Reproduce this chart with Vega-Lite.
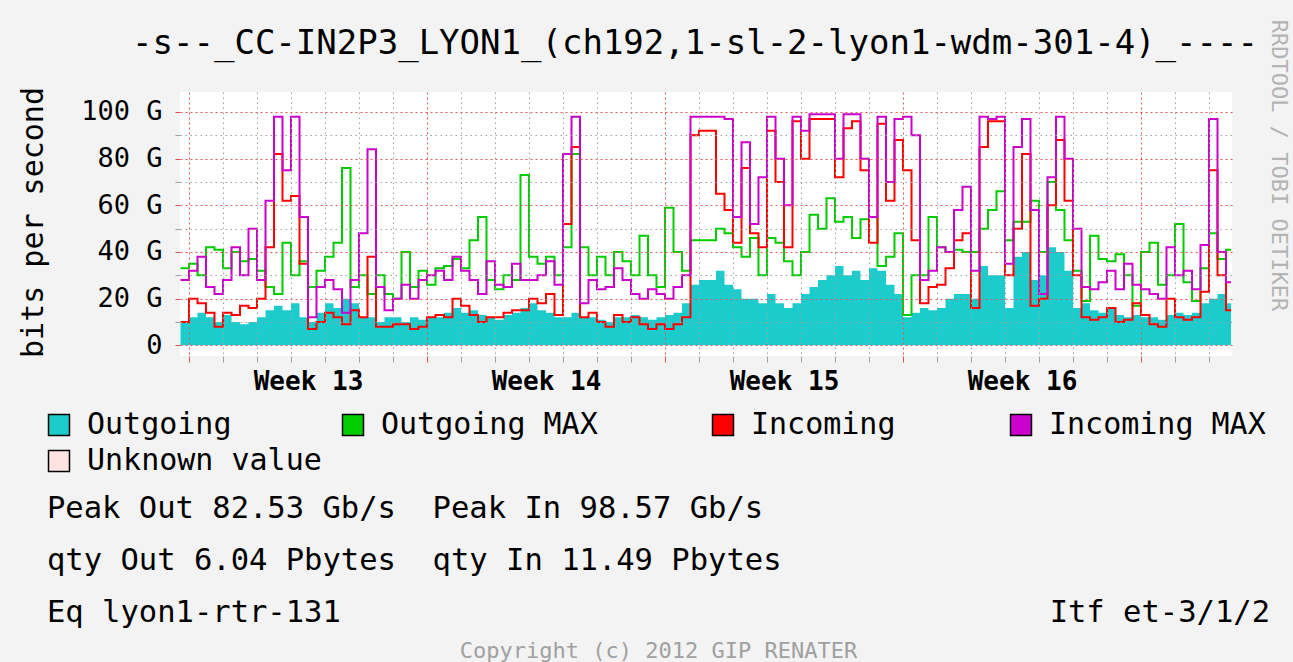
{
"$schema": "https://vega.github.io/schema/vega-lite/v6.json",
"width": 1052,
"height": 264,
"autosize": {"type": "none"},
"padding": {"left": 180, "top": 92, "right": 61, "bottom": 306},
"background": "#f3f3f3",
"config": {"view": {"fill": "white", "stroke": null}},
"title": {"text": "-s--_CC-IN2P3_LYON1_(ch192,1-sl-2-lyon1-wdm-301-4)_----", "font": "DejaVu Sans Mono", "fontSize": 34, "fontWeight": "normal", "color": "black", "anchor": "middle", "frame": "group", "dx": -11, "offset": -42},
"datasets": {
"main": [
{"d":-0.25,"Outgoing":10,"Outgoing MAX":33,"Incoming":10,"Incoming MAX":28},
{"d":0,"Outgoing":12,"Outgoing MAX":35,"Incoming":20,"Incoming MAX":32},
{"d":0.25,"Outgoing":14,"Outgoing MAX":30,"Incoming":18,"Incoming MAX":38},
{"d":0.5,"Outgoing":12,"Outgoing MAX":42,"Incoming":14,"Incoming MAX":25},
{"d":0.75,"Outgoing":10,"Outgoing MAX":41,"Incoming":8,"Incoming MAX":22},
{"d":1,"Outgoing":13,"Outgoing MAX":33,"Incoming":14,"Incoming MAX":28},
{"d":1.25,"Outgoing":10,"Outgoing MAX":40,"Incoming":13,"Incoming MAX":42},
{"d":1.5,"Outgoing":9,"Outgoing MAX":36,"Incoming":17,"Incoming MAX":30},
{"d":1.75,"Outgoing":10,"Outgoing MAX":37,"Incoming":16,"Incoming MAX":50},
{"d":2,"Outgoing":12,"Outgoing MAX":32,"Incoming":20,"Incoming MAX":28},
{"d":2.25,"Outgoing":15,"Outgoing MAX":25,"Incoming":42,"Incoming MAX":62},
{"d":2.5,"Outgoing":17,"Outgoing MAX":22,"Incoming":82,"Incoming MAX":98},
{"d":2.75,"Outgoing":15,"Outgoing MAX":44,"Incoming":62,"Incoming MAX":75},
{"d":3,"Outgoing":18,"Outgoing MAX":30,"Incoming":64,"Incoming MAX":98},
{"d":3.25,"Outgoing":12,"Outgoing MAX":36,"Incoming":35,"Incoming MAX":55},
{"d":3.5,"Outgoing":10,"Outgoing MAX":25,"Incoming":7,"Incoming MAX":12},
{"d":3.75,"Outgoing":14,"Outgoing MAX":32,"Incoming":10,"Incoming MAX":25},
{"d":4,"Outgoing":18,"Outgoing MAX":38,"Incoming":14,"Incoming MAX":28},
{"d":4.25,"Outgoing":16,"Outgoing MAX":44,"Incoming":12,"Incoming MAX":24},
{"d":4.5,"Outgoing":20,"Outgoing MAX":76,"Incoming":9,"Incoming MAX":14},
{"d":4.75,"Outgoing":18,"Outgoing MAX":25,"Incoming":15,"Incoming MAX":28},
{"d":5,"Outgoing":12,"Outgoing MAX":30,"Incoming":12,"Incoming MAX":48},
{"d":5.25,"Outgoing":12,"Outgoing MAX":22,"Incoming":38,"Incoming MAX":84},
{"d":5.5,"Outgoing":10,"Outgoing MAX":30,"Incoming":8,"Incoming MAX":25},
{"d":5.75,"Outgoing":12,"Outgoing MAX":22,"Incoming":8,"Incoming MAX":15},
{"d":6,"Outgoing":12,"Outgoing MAX":20,"Incoming":9,"Incoming MAX":20},
{"d":6.25,"Outgoing":10,"Outgoing MAX":40,"Incoming":9,"Incoming MAX":26},
{"d":6.5,"Outgoing":12,"Outgoing MAX":25,"Incoming":7,"Incoming MAX":20},
{"d":6.75,"Outgoing":11,"Outgoing MAX":32,"Incoming":8,"Incoming MAX":28},
{"d":7,"Outgoing":12,"Outgoing MAX":26,"Incoming":12,"Incoming MAX":30},
{"d":7.25,"Outgoing":12,"Outgoing MAX":33,"Incoming":13,"Incoming MAX":32},
{"d":7.5,"Outgoing":14,"Outgoing MAX":34,"Incoming":12,"Incoming MAX":28},
{"d":7.75,"Outgoing":16,"Outgoing MAX":37,"Incoming":20,"Incoming MAX":38},
{"d":8,"Outgoing":14,"Outgoing MAX":33,"Incoming":17,"Incoming MAX":32},
{"d":8.25,"Outgoing":15,"Outgoing MAX":45,"Incoming":13,"Incoming MAX":28},
{"d":8.5,"Outgoing":13,"Outgoing MAX":55,"Incoming":10,"Incoming MAX":22},
{"d":8.75,"Outgoing":12,"Outgoing MAX":28,"Incoming":12,"Incoming MAX":36},
{"d":9,"Outgoing":11,"Outgoing MAX":24,"Incoming":12,"Incoming MAX":26},
{"d":9.25,"Outgoing":13,"Outgoing MAX":30,"Incoming":14,"Incoming MAX":25},
{"d":9.5,"Outgoing":14,"Outgoing MAX":28,"Incoming":15,"Incoming MAX":35},
{"d":9.75,"Outgoing":16,"Outgoing MAX":73,"Incoming":15,"Incoming MAX":28},
{"d":10,"Outgoing":18,"Outgoing MAX":38,"Incoming":20,"Incoming MAX":28},
{"d":10.25,"Outgoing":15,"Outgoing MAX":35,"Incoming":18,"Incoming MAX":30},
{"d":10.5,"Outgoing":14,"Outgoing MAX":38,"Incoming":22,"Incoming MAX":36},
{"d":10.75,"Outgoing":12,"Outgoing MAX":30,"Incoming":13,"Incoming MAX":26},
{"d":11,"Outgoing":12,"Outgoing MAX":42,"Incoming":52,"Incoming MAX":82},
{"d":11.25,"Outgoing":14,"Outgoing MAX":82,"Incoming":85,"Incoming MAX":98},
{"d":11.5,"Outgoing":12,"Outgoing MAX":42,"Incoming":12,"Incoming MAX":18},
{"d":11.75,"Outgoing":12,"Outgoing MAX":30,"Incoming":14,"Incoming MAX":28},
{"d":12,"Outgoing":11,"Outgoing MAX":38,"Incoming":10,"Incoming MAX":24},
{"d":12.25,"Outgoing":10,"Outgoing MAX":30,"Incoming":8,"Incoming MAX":25},
{"d":12.5,"Outgoing":12,"Outgoing MAX":40,"Incoming":13,"Incoming MAX":33},
{"d":12.75,"Outgoing":12,"Outgoing MAX":36,"Incoming":10,"Incoming MAX":28},
{"d":13,"Outgoing":13,"Outgoing MAX":30,"Incoming":12,"Incoming MAX":22},
{"d":13.25,"Outgoing":12,"Outgoing MAX":47,"Incoming":9,"Incoming MAX":20},
{"d":13.5,"Outgoing":11,"Outgoing MAX":30,"Incoming":7,"Incoming MAX":24},
{"d":13.75,"Outgoing":12,"Outgoing MAX":25,"Incoming":9,"Incoming MAX":22},
{"d":14,"Outgoing":13,"Outgoing MAX":59,"Incoming":7,"Incoming MAX":20},
{"d":14.25,"Outgoing":14,"Outgoing MAX":40,"Incoming":9,"Incoming MAX":25},
{"d":14.5,"Outgoing":18,"Outgoing MAX":32,"Incoming":12,"Incoming MAX":30},
{"d":14.75,"Outgoing":26,"Outgoing MAX":45,"Incoming":90,"Incoming MAX":98},
{"d":15,"Outgoing":28,"Outgoing MAX":45,"Incoming":92,"Incoming MAX":98},
{"d":15.25,"Outgoing":28,"Outgoing MAX":45,"Incoming":92,"Incoming MAX":98},
{"d":15.5,"Outgoing":32,"Outgoing MAX":50,"Incoming":65,"Incoming MAX":98},
{"d":15.75,"Outgoing":26,"Outgoing MAX":48,"Incoming":58,"Incoming MAX":97},
{"d":16,"Outgoing":24,"Outgoing MAX":42,"Incoming":44,"Incoming MAX":55},
{"d":16.25,"Outgoing":20,"Outgoing MAX":38,"Incoming":76,"Incoming MAX":87},
{"d":16.5,"Outgoing":20,"Outgoing MAX":46,"Incoming":48,"Incoming MAX":52},
{"d":16.75,"Outgoing":18,"Outgoing MAX":30,"Incoming":42,"Incoming MAX":72},
{"d":17,"Outgoing":22,"Outgoing MAX":46,"Incoming":92,"Incoming MAX":98},
{"d":17.25,"Outgoing":18,"Outgoing MAX":44,"Incoming":70,"Incoming MAX":80},
{"d":17.5,"Outgoing":16,"Outgoing MAX":36,"Incoming":42,"Incoming MAX":60},
{"d":17.75,"Outgoing":18,"Outgoing MAX":30,"Incoming":96,"Incoming MAX":98},
{"d":18,"Outgoing":22,"Outgoing MAX":40,"Incoming":80,"Incoming MAX":92},
{"d":18.25,"Outgoing":25,"Outgoing MAX":56,"Incoming":97,"Incoming MAX":99},
{"d":18.5,"Outgoing":28,"Outgoing MAX":50,"Incoming":97,"Incoming MAX":99},
{"d":18.75,"Outgoing":30,"Outgoing MAX":63,"Incoming":97,"Incoming MAX":99},
{"d":19,"Outgoing":34,"Outgoing MAX":53,"Incoming":72,"Incoming MAX":80},
{"d":19.25,"Outgoing":30,"Outgoing MAX":55,"Incoming":93,"Incoming MAX":99},
{"d":19.5,"Outgoing":32,"Outgoing MAX":46,"Incoming":96,"Incoming MAX":99},
{"d":19.75,"Outgoing":28,"Outgoing MAX":54,"Incoming":75,"Incoming MAX":80},
{"d":20,"Outgoing":33,"Outgoing MAX":55,"Incoming":44,"Incoming MAX":55},
{"d":20.25,"Outgoing":32,"Outgoing MAX":34,"Incoming":95,"Incoming MAX":98},
{"d":20.5,"Outgoing":26,"Outgoing MAX":38,"Incoming":62,"Incoming MAX":70},
{"d":20.75,"Outgoing":22,"Outgoing MAX":48,"Incoming":88,"Incoming MAX":97},
{"d":21,"Outgoing":12,"Outgoing MAX":13,"Incoming":75,"Incoming MAX":98},
{"d":21.25,"Outgoing":14,"Outgoing MAX":30,"Incoming":45,"Incoming MAX":90},
{"d":21.5,"Outgoing":16,"Outgoing MAX":30,"Incoming":18,"Incoming MAX":28},
{"d":21.75,"Outgoing":15,"Outgoing MAX":55,"Incoming":25,"Incoming MAX":32},
{"d":22,"Outgoing":16,"Outgoing MAX":42,"Incoming":26,"Incoming MAX":42},
{"d":22.25,"Outgoing":20,"Outgoing MAX":40,"Incoming":33,"Incoming MAX":40},
{"d":22.5,"Outgoing":22,"Outgoing MAX":41,"Incoming":45,"Incoming MAX":58},
{"d":22.75,"Outgoing":22,"Outgoing MAX":40,"Incoming":48,"Incoming MAX":68},
{"d":23,"Outgoing":20,"Outgoing MAX":40,"Incoming":16,"Incoming MAX":32},
{"d":23.25,"Outgoing":34,"Outgoing MAX":50,"Incoming":85,"Incoming MAX":98},
{"d":23.5,"Outgoing":30,"Outgoing MAX":58,"Incoming":96,"Incoming MAX":97},
{"d":23.75,"Outgoing":30,"Outgoing MAX":66,"Incoming":96,"Incoming MAX":98},
{"d":24,"Outgoing":16,"Outgoing MAX":45,"Incoming":30,"Incoming MAX":35},
{"d":24.25,"Outgoing":38,"Outgoing MAX":53,"Incoming":50,"Incoming MAX":85},
{"d":24.5,"Outgoing":40,"Outgoing MAX":53,"Incoming":82,"Incoming MAX":97},
{"d":24.75,"Outgoing":28,"Outgoing MAX":62,"Incoming":17,"Incoming MAX":58},
{"d":25,"Outgoing":30,"Outgoing MAX":40,"Incoming":20,"Incoming MAX":22},
{"d":25.25,"Outgoing":42,"Outgoing MAX":70,"Incoming":60,"Incoming MAX":72},
{"d":25.5,"Outgoing":40,"Outgoing MAX":58,"Incoming":88,"Incoming MAX":98},
{"d":25.75,"Outgoing":32,"Outgoing MAX":45,"Incoming":62,"Incoming MAX":80},
{"d":26,"Outgoing":16,"Outgoing MAX":32,"Incoming":30,"Incoming MAX":50},
{"d":26.25,"Outgoing":18,"Outgoing MAX":19,"Incoming":12,"Incoming MAX":25},
{"d":26.5,"Outgoing":15,"Outgoing MAX":47,"Incoming":11,"Incoming MAX":24},
{"d":26.75,"Outgoing":14,"Outgoing MAX":37,"Incoming":12,"Incoming MAX":27},
{"d":27,"Outgoing":16,"Outgoing MAX":36,"Incoming":16,"Incoming MAX":32},
{"d":27.25,"Outgoing":13,"Outgoing MAX":39,"Incoming":10,"Incoming MAX":24},
{"d":27.5,"Outgoing":12,"Outgoing MAX":30,"Incoming":11,"Incoming MAX":35},
{"d":27.75,"Outgoing":13,"Outgoing MAX":17,"Incoming":18,"Incoming MAX":26},
{"d":28,"Outgoing":12,"Outgoing MAX":40,"Incoming":13,"Incoming MAX":24},
{"d":28.25,"Outgoing":12,"Outgoing MAX":44,"Incoming":9,"Incoming MAX":22},
{"d":28.5,"Outgoing":11,"Outgoing MAX":26,"Incoming":8,"Incoming MAX":20},
{"d":28.75,"Outgoing":13,"Outgoing MAX":30,"Incoming":20,"Incoming MAX":42},
{"d":29,"Outgoing":14,"Outgoing MAX":52,"Incoming":12,"Incoming MAX":30},
{"d":29.25,"Outgoing":13,"Outgoing MAX":27,"Incoming":11,"Incoming MAX":32},
{"d":29.5,"Outgoing":14,"Outgoing MAX":19,"Incoming":12,"Incoming MAX":24},
{"d":29.75,"Outgoing":18,"Outgoing MAX":33,"Incoming":23,"Incoming MAX":43},
{"d":30,"Outgoing":20,"Outgoing MAX":48,"Incoming":75,"Incoming MAX":97},
{"d":30.25,"Outgoing":22,"Outgoing MAX":37,"Incoming":30,"Incoming MAX":40},
{"d":30.5,"Outgoing":18,"Outgoing MAX":41,"Incoming":15,"Incoming MAX":27},
{"d":30.65,"Outgoing":18,"Outgoing MAX":41,"Incoming":15,"Incoming MAX":27}
],
"txt": [
{"row":"1","side":"left","text":"Peak Out 82.53 Gb/s\u00a0 Peak In 98.57 Gb/s"},
{"row":"2","side":"left","text":"qty Out 6.04 Pbytes\u00a0 qty In 11.49 Pbytes"},
{"row":"3","side":"left","text":"Eq lyon1-rtr-131"},
{"row":"3","side":"right","text":"Itf et-3/1/2"},
{"row":"4","side":"center","text":"Copyright (c) 2012 GIP RENATER"}
]
},
"resolve": {"scale": {"x": "independent", "y": "independent", "fill": "shared", "stroke": "shared"}, "axis": {"x": "independent", "y": "independent"}},
"layer": [
{
"data": {"name": "main"},
"transform": [{"fold": ["Outgoing"], "as": ["series", "v"]}],
"mark": {"type": "area", "interpolate": "step-after"},
"encoding": {
"x": {"field": "d", "type": "quantitative", "scale": {"domain": [-0.2647, 30.6765], "nice": false, "zero": false},
"axis": {"values": [0,1,2,3,4,5,6,7,8,9,10,11,12,13,14,15,16,17,18,19,20,21,22,23,24,25,26,27,28,29,30,3.5,10.5,17.5,24.5],
"labelExpr": "datum.value % 7 == 3.5 ? 'Week ' + (13 + floor(datum.value / 7)) : ''",
"labelFont": "DejaVu Sans Mono", "labelFontSize": 26, "labelFontWeight": "bold", "labelColor": "black", "labelOverlap": false, "labelFlush": false, "labelBound": false, "labelPadding": 6,
"tickSize": 6, "tickWidth": 1,
"tickColor": {"condition": {"test": "datum.value % 7 == 0", "value": "#e05050"}, "value": "#a0a0a0"},
"tickOpacity": {"condition": {"test": "datum.value % 1 != 0", "value": 0}, "value": 1},
"grid": true, "gridWidth": 1,
"gridColor": {"condition": {"test": "datum.value % 7 == 0", "value": "#e85555"}, "value": "#a0a0a0"},
"gridDash": {"condition": {"test": "datum.value % 7 == 0", "value": [2, 3]}, "value": [1.5, 3.5]},
"gridOpacity": {"condition": {"test": "datum.value % 1 != 0", "value": 0}, "value": 1},
"domain": false, "title": null, "zindex": 1}},
"y": {"field": "v", "type": "quantitative", "scale": {"domain": [-4.59, 108.57], "nice": false, "zero": false},
"axis": {"values": [0,10,20,30,40,50,60,70,80,90,100],
"labelExpr": "datum.value % 20 == 0 ? (datum.value == 0 ? '0' : datum.value + ' G') : ''",
"labelFont": "DejaVu Sans Mono", "labelFontSize": 27, "labelColor": "black", "labelOverlap": false, "labelPadding": 13, "labelFlush": false, "labelBound": false,
"tickSize": 5, "tickWidth": 1,
"tickColor": {"condition": {"test": "datum.value % 20 == 0", "value": "#e05050"}, "value": "#a0a0a0"},
"grid": true, "gridWidth": 1,
"gridColor": {"condition": {"test": "datum.value % 20 == 0", "value": "#e85555"}, "value": "#a0a0a0"},
"gridDash": {"condition": {"test": "datum.value % 20 == 0", "value": [2, 3]}, "value": [1.5, 3.5]},
"domain": false,
"title": "bits per second", "titleFont": "DejaVu Sans Mono", "titleFontSize": 30, "titleFontWeight": "normal", "titleColor": "black",
"titleAngle": 270, "titleX": -138, "titleY": 130, "titleAlign": "center", "titleBaseline": "alphabetic", "zindex": 1}},
"y2": {"datum": 0},
"fill": {"field": "series", "type": "nominal",
"scale": {"domain": ["Outgoing", "Outgoing MAX", "Incoming", "Incoming MAX", "Unknown value"], "range": ["#1ccccc", "#00cc00", "#ff0000", "#cc00cc", "#ffe2e2"]},
"legend": {"orient": "none", "legendX": -136, "legendY": 318, "direction": "horizontal", "columns": 4, "columnPadding": 16, "rowPadding": 6,
"labelExpr": "datum.label == 'Outgoing MAX' ? 'Outgoing MAX\u00a0\u00a0\u00a0\u00a0\u2800' : (datum.label == 'Incoming' ? 'Incoming\u00a0\u00a0\u00a0\u00a0\u2800' : datum.label)",
"symbolType": "square", "symbolSize": 440, "symbolStrokeColor": "black", "symbolStrokeWidth": 1.5, "symbolOpacity": 1,
"labelFont": "DejaVu Sans Mono", "labelFontSize": 30, "labelColor": "black", "labelOffset": 13, "labelLimit": 0, "title": null, "padding": 0}}
}
},
{
"data": {"name": "main"},
"transform": [{"fold": ["Outgoing MAX"], "as": ["series", "v"]}],
"mark": {"type": "line", "interpolate": "step-after", "strokeWidth": 2},
"encoding": {
"x": {"field": "d", "type": "quantitative", "scale": {"domain": [-0.2647, 30.6765], "nice": false, "zero": false}, "axis": null},
"y": {"field": "v", "type": "quantitative", "scale": {"domain": [-4.59, 108.57], "nice": false, "zero": false}, "axis": null},
"stroke": {"field": "series", "type": "nominal", "scale": {"domain": ["Outgoing MAX", "Incoming", "Incoming MAX"], "range": ["#00cc00", "#ff0000", "#cc00cc"]}, "legend": null}
}
},
{
"data": {"name": "main"},
"transform": [{"fold": ["Incoming"], "as": ["series", "v"]}],
"mark": {"type": "line", "interpolate": "step-after", "strokeWidth": 2},
"encoding": {
"x": {"field": "d", "type": "quantitative", "scale": {"domain": [-0.2647, 30.6765], "nice": false, "zero": false}, "axis": null},
"y": {"field": "v", "type": "quantitative", "scale": {"domain": [-4.59, 108.57], "nice": false, "zero": false}, "axis": null},
"stroke": {"field": "series", "type": "nominal", "legend": null}
}
},
{
"data": {"name": "main"},
"transform": [{"fold": ["Incoming MAX"], "as": ["series", "v"]}],
"mark": {"type": "line", "interpolate": "step-after", "strokeWidth": 2},
"encoding": {
"x": {"field": "d", "type": "quantitative", "scale": {"domain": [-0.2647, 30.6765], "nice": false, "zero": false}, "axis": null},
"y": {"field": "v", "type": "quantitative", "scale": {"domain": [-4.59, 108.57], "nice": false, "zero": false},
"axis": {"orient": "right", "labels": false, "ticks": false, "domain": false, "grid": false,
"title": "RRDTOOL / TOBI OETIKER", "titleAngle": 90, "titleFont": "DejaVu Sans Mono", "titleFontSize": 22, "titleFontWeight": "normal", "titleColor": "#b4b4b4",
"titleX": 46, "titleY": 73, "titleAlign": "center", "titleBaseline": "middle"}},
"stroke": {"field": "series", "type": "nominal", "legend": null}
}
},
{
"mark": {"type": "rule", "color": "#606060", "strokeWidth": 2},
"encoding": {
"x": {"datum": -0.294, "type": "quantitative", "scale": {"domain": [-0.2647, 30.6765], "nice": false, "zero": false}, "axis": null},
"y": {"datum": -6.6, "type": "quantitative", "scale": {"domain": [-4.59, 108.57], "nice": false, "zero": false}, "axis": null},
"y2": {"datum": 111}
}
},
{
"mark": {"type": "rule", "color": "#606060", "strokeWidth": 2},
"encoding": {
"x": {"datum": -0.45, "type": "quantitative", "scale": {"domain": [-0.2647, 30.6765], "nice": false, "zero": false}, "axis": null},
"x2": {"datum": 30.9},
"y": {"datum": -4.59, "type": "quantitative", "scale": {"domain": [-4.59, 108.57], "nice": false, "zero": false}, "axis": null}
}
},
{
"mark": {"type": "point", "shape": "triangle-up", "filled": true, "color": "#8b1c1c", "size": 170, "opacity": 1},
"encoding": {
"x": {"datum": -0.294, "type": "quantitative", "scale": {"domain": [-0.2647, 30.6765], "nice": false, "zero": false}, "axis": null},
"y": {"datum": 113.1, "type": "quantitative", "scale": {"domain": [-4.59, 108.57], "nice": false, "zero": false}, "axis": null}
}
},
{
"mark": {"type": "point", "shape": "triangle-right", "filled": true, "color": "#8b1c1c", "size": 170, "opacity": 1},
"encoding": {
"x": {"datum": 31.06, "type": "quantitative", "scale": {"domain": [-0.2647, 30.6765], "nice": false, "zero": false}, "axis": null},
"y": {"datum": -4.59, "type": "quantitative", "scale": {"domain": [-4.59, 108.57], "nice": false, "zero": false}, "axis": null}
}
},
{
"data": {"name": "txt"},
"transform": [{"filter": "datum.side == 'left'"}],
"mark": {"type": "text", "align": "left", "baseline": "middle", "font": "DejaVu Sans Mono", "fontSize": 30.5, "color": "black"},
"encoding": {
"x": {"field": "side", "type": "nominal", "scale": {"type": "point", "domain": ["left", "center", "right"], "range": [-133, 1090], "padding": 0}, "axis": null},
"y": {"field": "row", "type": "nominal", "scale": {"type": "point", "domain": ["1", "2", "3", "4"], "range": [417, 573], "padding": 0}, "axis": null},
"text": {"field": "text"}
}
},
{
"data": {"name": "txt"},
"transform": [{"filter": "datum.side == 'right'"}],
"mark": {"type": "text", "align": "right", "baseline": "middle", "font": "DejaVu Sans Mono", "fontSize": 30.5, "color": "black"},
"encoding": {
"x": {"field": "side", "type": "nominal", "scale": {"type": "point", "domain": ["left", "center", "right"], "range": [-133, 1090], "padding": 0}, "axis": null},
"y": {"field": "row", "type": "nominal", "scale": {"type": "point", "domain": ["1", "2", "3", "4"], "range": [417, 573], "padding": 0}, "axis": null},
"text": {"field": "text"}
}
},
{
"data": {"name": "txt"},
"transform": [{"filter": "datum.side == 'center'"}],
"mark": {"type": "text", "align": "center", "baseline": "middle", "font": "DejaVu Sans Mono", "fontSize": 22, "color": "#a0a0a0", "dy": -14},
"encoding": {
"x": {"field": "side", "type": "nominal", "scale": {"type": "point", "domain": ["left", "center", "right"], "range": [-133, 1090], "padding": 0}, "axis": null},
"y": {"field": "row", "type": "nominal", "scale": {"type": "point", "domain": ["1", "2", "3", "4"], "range": [417, 573], "padding": 0}, "axis": null},
"text": {"field": "text"}
}
}
]
}
